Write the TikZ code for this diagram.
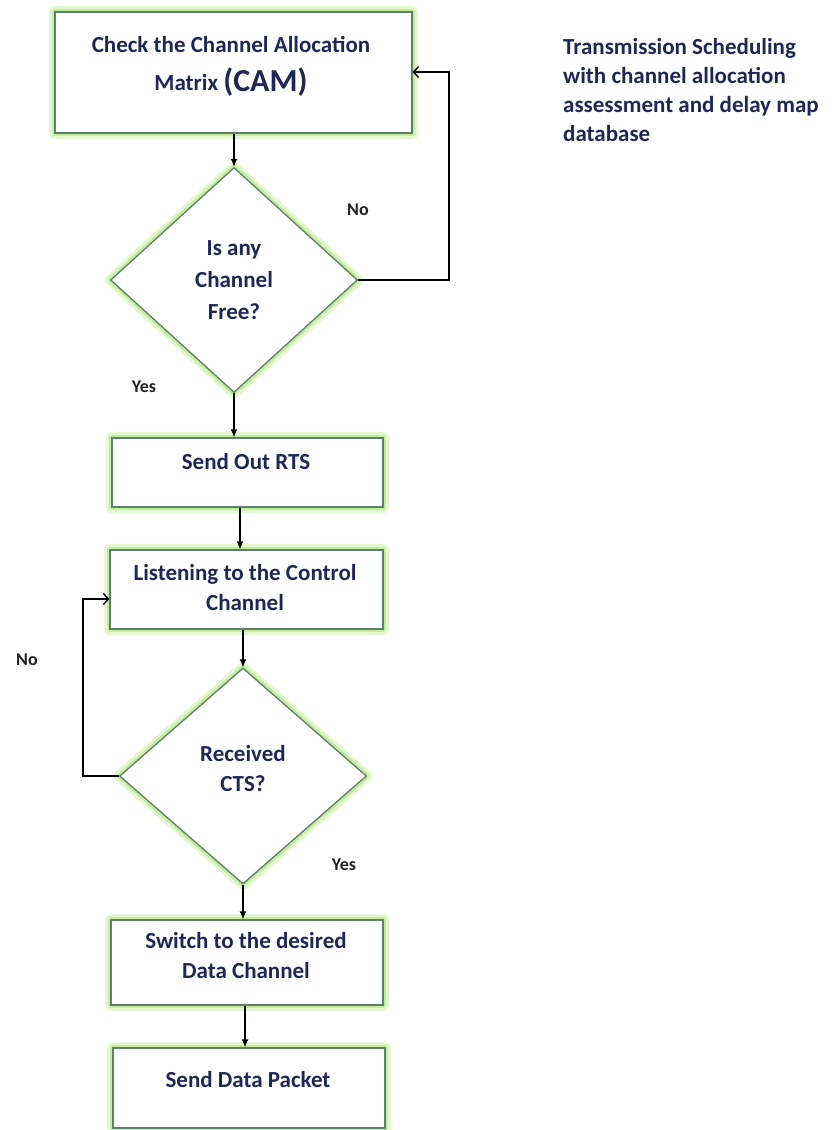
\documentclass[tikz,border=0pt]{standalone}
\usepackage{fontspec}
\setmainfont{Carlito}
\usetikzlibrary{shapes.geometric,arrows.meta}

\definecolor{edgegreen}{HTML}{5E7F6E}
\definecolor{glowgreen}{HTML}{C2EE9C}
\definecolor{haze}{HTML}{E4F8D2}
\definecolor{inknavy}{HTML}{1E2858}
\definecolor{labelink}{HTML}{222222}

\tikzset{
  glowshape/.style={draw=edgegreen, line width=1.3pt, fill=white,
    preaction={draw=haze, line width=12pt, line join=round},
    preaction={draw=glowgreen, line width=6pt, line join=round}},
  procbox/.style={glowshape, rectangle, inner sep=0pt},
  decision/.style={glowshape, diamond, inner sep=0pt, aspect=1},
  boxtext/.style={font=\bfseries\fontsize{23}{30}\selectfont, text=inknavy,
    align=center, inner sep=0pt},
  branch/.style={font=\bfseries\fontsize{18}{20}\selectfont, text=labelink, inner sep=0pt},
  flow/.style={line width=1.4pt, draw=black, -{Latex[length=8pt,width=7pt]}},
  loopback/.style={line width=1.4pt, draw=black, -{Straight Barb[length=5pt,width=11pt]}},
}

\begin{document}
\begin{tikzpicture}[x=1pt, y=-1pt]
  \useasboundingbox (0,0) rectangle (836,1130);

  % process boxes
  \node[procbox, minimum width=357pt, minimum height=121pt] (b1) at (233.5,72.5) {};
  \node[procbox, minimum width=271pt, minimum height=69pt] (b2) at (247.5,472.5) {};
  \node[procbox, minimum width=273pt, minimum height=79pt] (b3) at (246.5,589.5) {};
  \node[procbox, minimum width=272pt, minimum height=85pt] (b4) at (247,962.5) {};
  \node[procbox, minimum width=272pt, minimum height=80pt] (b5) at (249,1088) {};

  % decisions
  \node[decision, minimum width=247pt, minimum height=225pt] (d1) at (234,280) {};
  \node[decision, minimum width=247pt, minimum height=216pt] (d2) at (243,776) {};

  % texts
  \node[boxtext] (t1) at (231,66) {Check the Channel Allocation\\[8pt]
    Matrix {\fontsize{32}{34}\selectfont\raisebox{-1pt}{(CAM)}}};
  \node[boxtext] (t2) at (246,462) {Send Out RTS};
  \node[boxtext] (t3) at (245,588) {Listening to the Control\\Channel};
  \node[boxtext] (t4) at (246,956) {Switch to the desired\\Data Channel};
  \node[boxtext] (t5) at (248,1080) {Send Data Packet};
  \node[boxtext, font=\bfseries\fontsize{23}{32}\selectfont] (t6) at (234,280) {Is any\\Channel\\Free?};
  \node[boxtext] (t7) at (243,768) {Received\\CTS?};

  \node[boxtext, align=left, anchor=north west,
        font=\bfseries\fontsize{23}{29}\selectfont] (title) at (563,38)
    {Transmission Scheduling\\with channel allocation\\assessment and delay map\\database};

  % branch labels
  \node[branch] (no1) at (358,210) {No};
  \node[branch] (yes1) at (144,387) {Yes};
  \node[branch] (no2) at (27,660) {No};
  \node[branch] (yes2) at (344,865) {Yes};

  % corners of the loop-back paths
  \coordinate (c1a) at (449,280);
  \coordinate (c1b) at (449,72);
  \coordinate (c2a) at (83,776);
  \coordinate (c2b) at (83,599);

  % main flow
  \draw[flow] (b1.south -| d1.north) -- (d1.north);
  \draw[flow] (d1.south) -- (d1.south |- b2.north);
  \draw[flow] (b2.south -| 240,0) -- (b3.north -| 240,0);
  \draw[flow] (b3.south -| d2.north) -- (d2.north);
  \draw[flow] (d2.south) -- (d2.south |- b4.north);
  \draw[flow] (b4.south -| 245,0) -- (b5.north -| 245,0);

  % loop-backs
  \draw[loopback] (d1.east) -- (c1a) -- (c1b) -- (c1b -| b1.east);
  \draw[loopback] (d2.west) -- (c2a) -- (c2b) -- (c2b -| b3.west);
\end{tikzpicture}
\end{document}
